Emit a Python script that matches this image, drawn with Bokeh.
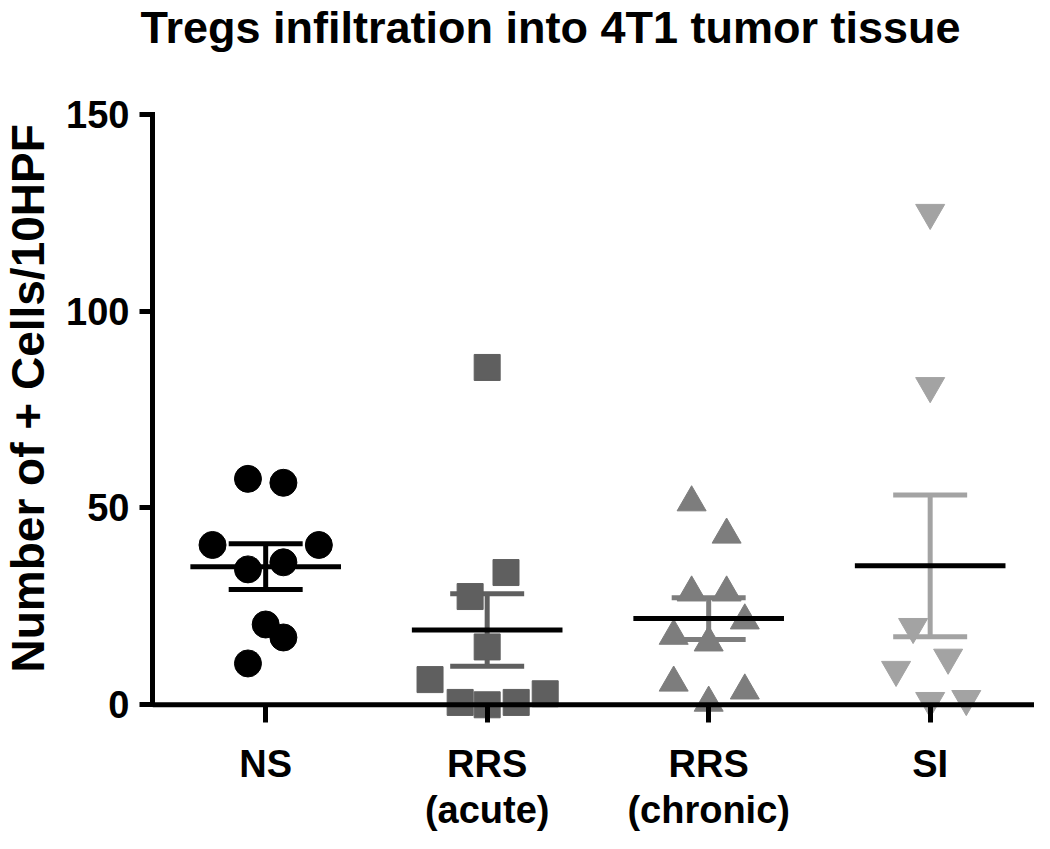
from bokeh.plotting import figure
from bokeh.models import Range1d, FixedTicker, Span, ColumnDataSource, Title
from bokeh.embed import file_html
from bokeh.resources import INLINE

# ---------------- data ----------------
categories = ["NS", "RRS\n(acute)", "RRS\n(chronic)", "SI"]
cat_pos = [1, 2, 3, 4]

ns_values = [57.4, 56.4, 40.6, 40.6, 34.4, 36.2, 20.4, 17.1, 10.5]
ns_offsets = [-0.08, 0.08, -0.24, 0.24, -0.08, 0.08, 0.0, 0.08, -0.08]

acute_values = [85.7, 33.6, 27.5, 14.7, 6.4, 0.6, 0.0, 0.6, 2.8]
acute_offsets = [0.0, 0.085, -0.077, 0.0, -0.258, -0.122, 0.0, 0.131, 0.262]

chronic_values = [51.4, 43.2, 28.5, 28.5, 21.4, 17.5, 15.8, 5.6, 0.5, 3.6]
chronic_offsets = [-0.077, 0.081, -0.077, 0.081, 0.163, -0.158, 0.0, -0.158, 0.0, 0.163]

si_values = [125.0, 81.0, 19.8, 12.0, 8.9, 1.0, 1.5]
si_offsets = [0.0, 0.0, -0.077, 0.081, -0.154, 0.0, 0.163]

means = [35.1, 19.0, 21.9, 35.3]
sems = [5.8, 9.2, 5.3, 18.0]

y_ticks = [0, 50, 100, 150]

title_text = "Tregs infiltration into 4T1 tumor tissue"
y_label = "Number of + Cells/10HPF"

# ---------------- styles ----------------
FONT = "Liberation Sans"
colors = ["#000000", "#5f5f5f", "#7d7d7d", "#a3a3a3"]
markers = ["circle", "square", "triangle", "inverted_triangle"]
sizes = [27, 26, 29, 29]
MEAN_HW = 0.34
CAP_HW = 0.167

groups = [
    (ns_values, ns_offsets),
    (acute_values, acute_offsets),
    (chronic_values, chronic_offsets),
    (si_values, si_offsets),
]

p = figure(width=1034, height=833, output_backend="svg", toolbar_location=None,
           title_location=None,
           x_range=Range1d(0.489, 4.471), y_range=Range1d(-4.5, 152),
           min_border_left=152, min_border_right=0, min_border_top=106,
           min_border_bottom=111, background_fill_color="white",
           border_fill_color="white")
p.outline_line_color = None
p.grid.visible = False

# ---- title: spacer next to the frame, then the real title at the top ----
p.add_layout(Title(text=" ", text_font_size="10px", standoff=39), "above")
p.add_layout(Title(text=title_text, align="left", offset=-12, vertical_align="top",
                   standoff=0, text_font=FONT, text_font_size="45px",
                   text_font_style="bold", text_color="black"), "above")

# y axis
ya = p.yaxis[0]
ya.bounds = (0, 150)
ya.ticker = FixedTicker(ticks=y_ticks)
ya.minor_tick_line_color = None
ya.major_tick_out = 13
ya.major_tick_in = 0
ya.major_tick_line_width = 5
ya.axis_line_width = 5
ya.axis_line_cap = "square"
ya.major_label_text_font = FONT
ya.major_label_text_font_size = "38px"
ya.major_label_text_font_style = "bold"
ya.major_label_text_color = "black"
ya.major_label_standoff = 10

# ---- y axis title: small spacer next to the axis, then the rotated title ----
p.add_layout(Title(text=" ", text_font_size="1px", standoff=5), "left")
p.add_layout(Title(text=y_label, align="left", offset=50, vertical_align="top",
                   standoff=0, text_font=FONT, text_font_size="46px",
                   text_font_style="bold", text_color="black"), "left")

# x axis
xa = p.xaxis[0]
xa.ticker = FixedTicker(ticks=cat_pos)
xa.major_label_overrides = {c: lab for c, lab in zip(cat_pos, categories)}
xa.minor_tick_line_color = None
xa.axis_line_color = None
xa.major_tick_in = 18
xa.major_tick_out = 0
xa.major_tick_line_width = 5
xa.major_label_text_font = FONT
xa.major_label_text_font_size = "38px"
xa.major_label_text_font_style = "bold"
xa.major_label_text_color = "black"
xa.major_label_text_line_height = 1.1
xa.major_label_standoff = 20

p.add_layout(Span(location=0, dimension="width", line_color="black", line_width=5))

# SEM bars
bar_src = ColumnDataSource(dict(
    x=cat_pos,
    lo=[m - s for m, s in zip(means, sems)],
    hi=[m + s for m, s in zip(means, sems)],
    x0=[c - CAP_HW for c in cat_pos],
    x1=[c + CAP_HW for c in cat_pos],
    color=colors,
))
p.segment(x0="x", x1="x", y0="lo", y1="hi", source=bar_src, line_color="color",
          line_width=5)
p.segment(x0="x0", x1="x1", y0="hi", y1="hi", source=bar_src, line_color="color",
          line_width=5)
p.segment(x0="x0", x1="x1", y0="lo", y1="lo", source=bar_src, line_color="color",
          line_width=5)

# points
for i, (vals, offs) in enumerate(groups):
    src = ColumnDataSource(dict(x=[cat_pos[i] + o for o in offs], y=vals))
    p.scatter(x="x", y="y", source=src, marker=markers[i], size=sizes[i],
              fill_color=colors[i], line_color=colors[i], line_width=1)

# mean lines
mean_src = ColumnDataSource(dict(
    x0=[c - MEAN_HW for c in cat_pos],
    x1=[c + MEAN_HW for c in cat_pos],
    y=means,
))
p.segment(x0="x0", x1="x1", y0="y", y1="y", source=mean_src, line_color="black",
          line_width=5)

open("out.html", "w").write(file_html(p, INLINE))
